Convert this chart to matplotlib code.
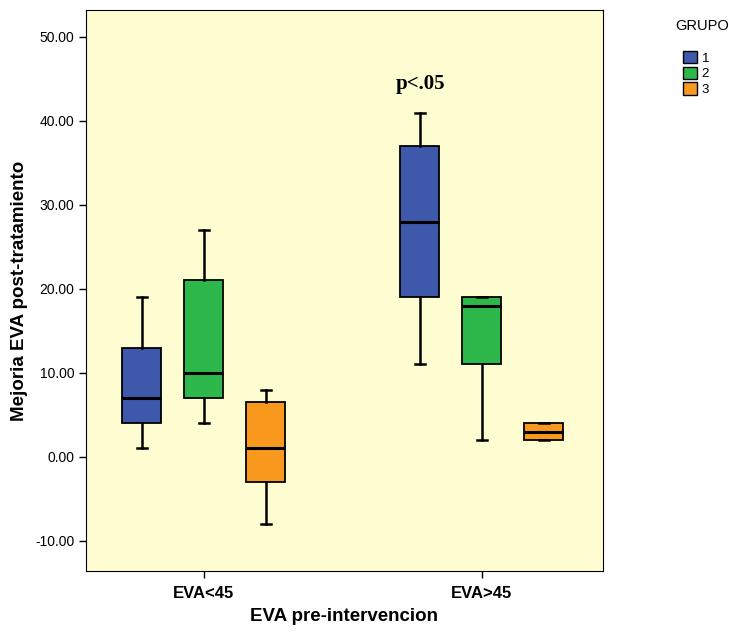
import matplotlib.pyplot as plt
from matplotlib.patches import Patch

# --- Data: box summary per pre-intervention category and group ---
categories = ["EVA<45", "EVA>45"]
groups = ["1", "2", "3"]
colors = ["#3E58AC", "#2EB84B", "#F8991D"]

whislo = [[1, 4, -8], [11, 2, 2]]
q1 = [[4, 7, -3], [19, 11, 2]]
med = [[7, 10, 1], [28, 18, 3]]
q3 = [[13, 21, 6.5], [37, 19, 4]]
whishi = [[19, 27, 8], [41, 19, 4]]

plt.rcParams['font.family'] = ['Liberation Sans', 'DejaVu Sans']

fig = plt.figure(figsize=(7.29, 6.33), dpi=100)
ax = fig.add_axes([0.118, 0.098, 0.709, 0.886])
ax.set_facecolor("#FEFDD2")

offset = 0.223
width = 0.14
for ci, cat in enumerate(categories):
    for gi, g in enumerate(groups):
        stats = [dict(whislo=whislo[ci][gi], q1=q1[ci][gi], med=med[ci][gi],
                      q3=q3[ci][gi], whishi=whishi[ci][gi], fliers=[])]
        pos = ci + (gi - 1) * offset
        ax.bxp(stats, positions=[pos], widths=width, patch_artist=True,
               showfliers=False, capwidths=0.038,
               boxprops=dict(facecolor=colors[gi], edgecolor="black", linewidth=1.3),
               medianprops=dict(color="black", linewidth=2.2),
               whiskerprops=dict(color="black", linewidth=1.8),
               capprops=dict(color="black", linewidth=1.8),
               manage_ticks=False)

ax.set_xlim(-0.424, 1.435)
ax.set_ylim(-13.6, 53.2)
ax.set_xticks([0, 1])
ax.set_xticklabels(categories, fontsize=12, fontweight="bold")
ax.set_yticks(range(-10, 51, 10))
ax.set_yticklabels([f"{v:.2f}" for v in range(-10, 51, 10)], fontsize=10)
ax.tick_params(axis="both", length=5, width=1, color="black")
ax.tick_params(axis="x", pad=6)

ax.set_xlabel("EVA pre-intervencion", fontsize=13.5, fontweight="bold", labelpad=5)
ax.set_ylabel("Mejoria EVA post-tratamiento", fontsize=13.5, fontweight="bold", labelpad=5)

ax.text(1 - offset, 44.4, "p<.05", fontsize=15, fontweight="bold",
        family="Liberation Serif", ha="center", va="center")

# legend: title drawn separately so the swatches sit a little lower
fig.text(702 / 729, 1 - 26 / 633, "GRUPO", fontsize=10.5, ha="center", va="center")
handles = [Patch(facecolor=c, edgecolor="black", label=g) for c, g in zip(colors, groups)]
fig.legend(handles=handles, loc="upper left",
           bbox_to_anchor=(674 / 729, 1 - 42 / 633), frameon=False, fontsize=9.5,
           handlelength=1.05, handleheight=1.05, borderpad=0.2,
           handletextpad=0.35, labelspacing=0.15)

fig.savefig("out.png", dpi=100)
